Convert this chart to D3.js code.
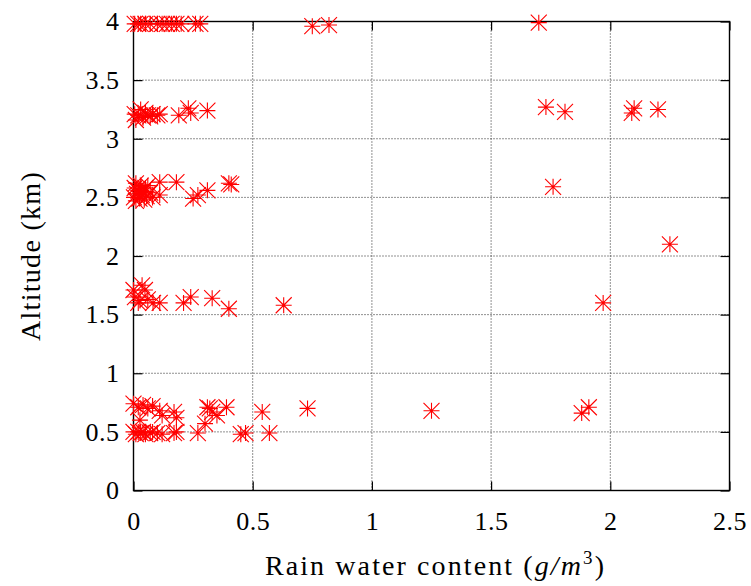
<!DOCTYPE html>
<html>
<head>
<meta charset="utf-8">
<script src="https://cdn.jsdelivr.net/npm/d3@7"></script>
<style>
  html, body { margin: 0; padding: 0; background: #fff; }
  svg { display: block; }
  text { font-family: "Liberation Serif", "DejaVu Serif", serif; fill: #000; }
</style>
</head>
<body>
<script>
// Rain water content (g/m^3) measured at each flight altitude (km)
const rainWater = [
  // ~4 km
  0.005, 0.02, 0.03, 0.05, 0.07, 0.10, 0.12, 0.14, 0.16, 0.18, 0.20, 0.26, 0.28, 0.75, 0.82, 1.70,
  // ~3.2 km
  0.005, 0.01, 0.02, 0.03, 0.04, 0.05, 0.06, 0.07, 0.08, 0.10, 0.11, 0.19, 0.23, 0.24, 0.31, 1.73, 1.81, 2.09, 2.10, 2.20,
  // ~2.5 km
  0.002, 0.005, 0.01, 0.01, 0.015, 0.02, 0.025, 0.03, 0.035, 0.04, 0.045, 0.05, 0.055, 0.06, 0.07, 0.08,
  0.11, 0.11, 0.18, 0.25, 0.27, 0.31, 0.40, 0.41, 1.76, 2.25,
  // ~1.6 km
  0.0, 0.006, 0.02, 0.027, 0.036, 0.048, 0.06, 0.082, 0.11, 0.21, 0.24, 0.33, 0.40, 0.63, 1.97,
  // ~0.7 km
  0.0, 0.02, 0.04, 0.06, 0.08, 0.11, 0.12, 0.17, 0.18, 0.31, 0.32, 0.33, 0.35, 0.39, 0.54, 0.73, 1.25, 1.88, 1.91,
  // ~0.5 km
  0.0, 0.01, 0.02, 0.03, 0.04, 0.05, 0.07, 0.08, 0.10, 0.12, 0.17, 0.18, 0.27, 0.30, 0.45, 0.47, 0.57, 0.027
];

const altitude = [
  3.98, 3.98, 3.98, 3.98, 3.98, 3.98, 3.98, 3.98, 3.98, 3.98, 3.98, 3.98, 3.98, 3.96, 3.97, 3.99,
  3.21, 3.16, 3.20, 3.25, 3.18, 3.22, 3.20, 3.19, 3.21, 3.20, 3.21, 3.20, 3.26, 3.22, 3.24, 3.27, 3.23, 3.22, 3.26, 3.25,
  2.50, 2.58, 2.47, 2.62, 2.53, 2.56, 2.49, 2.60, 2.52, 2.55, 2.48, 2.58, 2.51, 2.60, 2.54, 2.50,
  2.63, 2.52, 2.63, 2.49, 2.52, 2.56, 2.62, 2.61, 2.59, 2.10,
  1.71, 1.65, 1.60, 1.62, 1.75, 1.71, 1.63, 1.60, 1.60, 1.60, 1.65, 1.64, 1.55, 1.58, 1.60,
  0.74, 0.71, 0.73, 0.70, 0.72, 0.68, 0.64, 0.67, 0.62, 0.71, 0.70, 0.67, 0.64, 0.71, 0.67, 0.70, 0.68, 0.66, 0.71,
  0.50, 0.48, 0.50, 0.49, 0.50, 0.48, 0.49, 0.50, 0.49, 0.48, 0.49, 0.50, 0.49, 0.57, 0.48, 0.49, 0.49, 0.60
];

const xTicks = [0, 0.5, 1, 1.5, 2, 2.5];
const yTicks = [0, 0.5, 1, 1.5, 2, 2.5, 3, 3.5, 4];

const W = 751, H = 586;
const plotLeft = 133.5, plotRight = 729.5, plotTop = 21.5, plotBottom = 490.5;
const tickLen = 9;

const svg = d3.select("body").append("svg").attr("width", W).attr("height", H);

const x = d3.scaleLinear().domain([0, 2.5]).range([plotLeft, plotRight]);
const y = d3.scaleLinear().domain([0, 4]).range([plotBottom, plotTop]);

// dotted grid
const grid = svg.append("g").attr("stroke", "#222").attr("stroke-width", 1).attr("stroke-dasharray", "1,2");
grid.selectAll(".gx").data(xTicks.slice(1, -1)).join("line")
  .attr("x1", d => x(d)).attr("x2", d => x(d)).attr("y1", plotTop).attr("y2", plotBottom);
grid.selectAll(".gy").data(yTicks.slice(1, -1)).join("line")
  .attr("y1", d => y(d)).attr("y2", d => y(d)).attr("x1", plotLeft).attr("x2", plotRight);

// axes: inward ticks on all four sides
const fmt = d3.format("");
const axB = svg.append("g").attr("transform", `translate(0,${plotBottom})`)
  .call(d3.axisBottom(x).tickValues(xTicks).tickSizeInner(-tickLen).tickSizeOuter(0).tickPadding(21).tickFormat(fmt));
const axT = svg.append("g").attr("transform", `translate(0,${plotTop})`)
  .call(d3.axisTop(x).tickValues(xTicks).tickSizeInner(-tickLen).tickSizeOuter(0).tickFormat(""));
const axL = svg.append("g").attr("transform", `translate(${plotLeft},0)`)
  .call(d3.axisLeft(y).tickValues(yTicks).tickSizeInner(-tickLen).tickSizeOuter(0).tickPadding(14).tickFormat(fmt));
const axR = svg.append("g").attr("transform", `translate(${plotRight},0)`)
  .call(d3.axisRight(y).tickValues(yTicks).tickSizeInner(-tickLen).tickSizeOuter(0).tickFormat(""));

[axB, axT, axL, axR].forEach(g => {
  g.select(".domain").remove();
  g.selectAll(".tick line").attr("stroke", "#000").attr("stroke-width", 1.2);
  g.selectAll("text").attr("font-size", 26).attr("font-family", "Liberation Serif, serif")
    .attr("letter-spacing", 0.5).attr("fill", "#000");
});
axB.selectAll("text").attr("dy", "0.71em");

// frame
svg.append("rect").attr("x", plotLeft).attr("y", plotTop)
  .attr("width", plotRight - plotLeft).attr("height", plotBottom - plotTop)
  .attr("fill", "none").attr("stroke", "#000").attr("stroke-width", 1.4);

// star markers
const r = 8;
const star = `M${-r},0H${r}M0,${-r}V${r}M${-r},${-r}L${r},${r}M${-r},${r}L${r},${-r}`;
svg.append("g").selectAll("path").data(rainWater.map((v, i) => [v, altitude[i]])).join("path")
  .attr("d", star)
  .attr("transform", d => `translate(${x(d[0])},${y(d[1])})`)
  .attr("fill", "none").attr("stroke", "#ff0000").attr("stroke-width", 1.1);

// axis titles
const xt = svg.append("text").attr("x", (plotLeft + plotRight) / 2 + 4).attr("y", 575)
  .attr("text-anchor", "middle").attr("font-size", 28).attr("letter-spacing", 2.1);
xt.append("tspan").text("Rain water content (");
xt.append("tspan").attr("font-style", "italic").text("g/m");
xt.append("tspan").attr("font-size", 19).attr("dy", -11).text("3");
xt.append("tspan").attr("dy", 11).text(")");

svg.append("text").attr("transform", `translate(40,${(plotTop + plotBottom) / 2}) rotate(-90)`)
  .attr("text-anchor", "middle").attr("font-size", 28).attr("letter-spacing", 1.3).text("Altitude (km)");
</script>
</body>
</html>
